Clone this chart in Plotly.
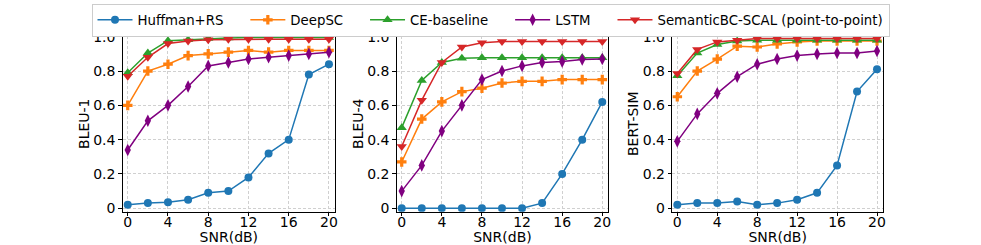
import plotly.graph_objects as go

snr = [0, 2, 4, 6, 8, 10, 12, 14, 16, 18, 20]
methods = ["Huffman+RS", "DeepSC", "CE-baseline", "LSTM", "SemanticBC-SCAL (point-to-point)"]
colors = ["#1f77b4", "#ff7f0e", "#2ca02c", "#800080", "#d62728"]
symbols = ["circle", "cross", "triangle-up", "diamond-tall", "triangle-down"]
sizes = [8, 8, 9, 9, 9]

bleu1 = {
    "Huffman+RS": [0.02, 0.03, 0.035, 0.05, 0.09, 0.10, 0.18, 0.32, 0.40, 0.78, 0.84],
    "DeepSC": [0.60, 0.80, 0.84, 0.89, 0.90, 0.91, 0.92, 0.91, 0.92, 0.92, 0.92],
    "CE-baseline": [0.79, 0.905, 0.977, 0.982, 0.99, 0.993, 0.995, 0.995, 0.995, 0.995, 0.995],
    "LSTM": [0.34, 0.51, 0.60, 0.71, 0.83, 0.85, 0.87, 0.88, 0.89, 0.90, 0.91],
    "SemanticBC-SCAL (point-to-point)": [0.77, 0.88, 0.96, 0.975, 0.983, 0.985, 0.985, 0.985, 0.985, 0.985, 0.985],
}
bleu4 = {
    "Huffman+RS": [0.0, 0.0, 0.0, 0.0, 0.0, 0.0, 0.0, 0.03, 0.20, 0.40, 0.62],
    "DeepSC": [0.27, 0.52, 0.62, 0.68, 0.70, 0.73, 0.74, 0.74, 0.75, 0.75, 0.75],
    "CE-baseline": [0.47, 0.745, 0.85, 0.875, 0.877, 0.877, 0.877, 0.877, 0.877, 0.877, 0.877],
    "LSTM": [0.10, 0.25, 0.45, 0.60, 0.75, 0.80, 0.83, 0.85, 0.855, 0.867, 0.87],
    "SemanticBC-SCAL (point-to-point)": [0.36, 0.63, 0.85, 0.94, 0.965, 0.972, 0.972, 0.972, 0.972, 0.972, 0.972],
}
bertsim = {
    "Huffman+RS": [0.02, 0.03, 0.03, 0.04, 0.02, 0.03, 0.05, 0.09, 0.25, 0.68, 0.81],
    "DeepSC": [0.65, 0.80, 0.87, 0.945, 0.94, 0.958, 0.97, 0.975, 0.975, 0.975, 0.975],
    "CE-baseline": [0.773, 0.905, 0.955, 0.975, 0.98, 0.98, 0.98, 0.98, 0.98, 0.98, 0.98],
    "LSTM": [0.39, 0.55, 0.67, 0.767, 0.84, 0.87, 0.89, 0.90, 0.905, 0.905, 0.917],
    "SemanticBC-SCAL (point-to-point)": [0.786, 0.926, 0.97, 0.98, 0.99, 0.99, 0.99, 0.99, 0.99, 0.99, 0.99],
}
panels = [("BLEU-1", bleu1), ("BLEU-4", bleu4), ("BERT-SIM", bertsim)]
x_ticks = [0, 4, 8, 12, 16, 20]
y_ticks = [0, 0.2, 0.4, 0.6, 0.8, 1.0]
y_ticktext = ["0", "0.2", "0.4", "0.6", "0.8", "1.0"]

W, H = 981, 245
x_doms_px = [(122.7, 335.0), (396.7, 608.3), (672.3, 883.0)]
y_dom = [1 - 211.7 / H, 1 - 35.7 / H]
PAD = "\u00a0" * 4

fig = go.Figure()
for i, (title, data) in enumerate(panels):
    ax = "" if i == 0 else str(i + 1)
    for j, m in enumerate(methods):
        label = m + (PAD if j < len(methods) - 1 else "")
        fig.add_trace(go.Scatter(
            x=snr, y=data[m], name=label, mode="lines+markers",
            line=dict(color=colors[j], width=1.5),
            marker=dict(symbol=symbols[j], size=sizes[j], color=colors[j]),
            xaxis="x" + ax, yaxis="y" + ax, showlegend=(i == 0),
        ))
    common = dict(showline=True, linecolor="black", linewidth=1, mirror=True,
                  ticks="outside", ticklen=3.5, tickcolor="black",
                  showgrid=True, gridcolor="#d0d0d0", griddash="3px,2px", gridwidth=1,
                  zeroline=False, tickfont=dict(size=14, color="black"))
    x0, x1 = x_doms_px[i]
    fig.layout["xaxis" + ax] = dict(domain=[x0 / W, x1 / W], range=[-0.5, 20.6],
                                   tickvals=x_ticks, anchor="y" + ax, ticklabelstandoff=-6,
                                   title=dict(text="SNR(dB)", font=dict(size=14, color="black"), standoff=8),
                                   **common)
    fig.layout["yaxis" + ax] = dict(domain=y_dom, range=[-0.02, 1.006],
                                   tickvals=y_ticks, ticktext=y_ticktext, anchor="x" + ax,
                                   title=dict(text=title, font=dict(size=14, color="black"), standoff=0),
                                   **common)

fig.update_layout(
    width=W, height=H, margin=dict(l=0, r=0, t=0, b=0, autoexpand=False),
    plot_bgcolor="white", paper_bgcolor="white",
    font=dict(family="DejaVu Sans", color="black"),
    legend=dict(orientation="h", x=0.5, xanchor="center", y=0.985, yanchor="top",
                bordercolor="#cccccc", borderwidth=1, font=dict(size=13.3),
                itemwidth=35, tracegroupgap=0),
)
fig.write_html("out.html", config={"displayModeBar": False},
               post_script="document.body.style.margin='0';document.body.style.padding='0';")
